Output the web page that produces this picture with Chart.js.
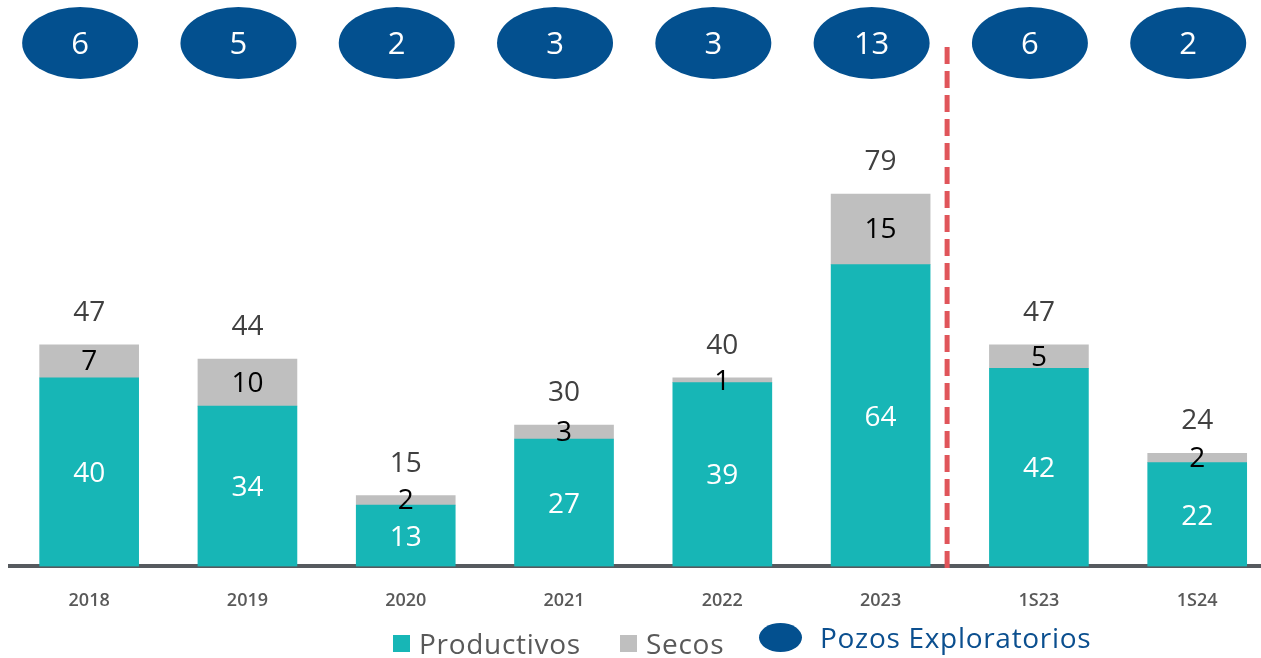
<!DOCTYPE html>
<html>
<head>
<meta charset="utf-8">
<script src="https://cdn.jsdelivr.net/npm/chart.js@4"></script>
<style>
  html, body { margin: 0; padding: 0; background: #fff; }
  #wrap { position: relative; width: 1261px; height: 658px; font-family: "Open Sans", sans-serif; }
  #wrap canvas { position: absolute; left: 0; top: 0; }
  .leg { position: absolute; display: flex; align-items: center; font-size: 28px; letter-spacing: 0.7px; color: #595959; white-space: nowrap; }
  .sq { display: inline-block; width: 17px; height: 17px; margin-right: 9px; }
  .ell { display: inline-block; width: 43px; height: 29px; border-radius: 50%; background: #03508f; margin-right: 18px; }
</style>
</head>
<body>
<div id="wrap">
  <canvas id="c" width="1261" height="658"></canvas>
  <div class="leg" style="left:393px; top:624px;"><span class="sq" style="background:#17b6b6"></span>Productivos</div>
  <div class="leg" style="left:620px; top:624px;"><span class="sq" style="background:#bfbfbf"></span>Secos</div>
  <div class="leg" style="left:759px; top:618px; color:#0b4f8f;"><span class="ell"></span>Pozos Exploratorios</div>
</div>
<script>
// Exploratory wells per period: productive vs dry, total on top, well count in the navy ovals.
const categories  = ["2018", "2019", "2020", "2021", "2022", "2023", "1S23", "1S24"];
const productivos = [40, 34, 13, 27, 39, 64, 42, 22];
const secos       = [7, 10, 2, 3, 1, 15, 5, 2];
const totales     = [47, 44, 15, 30, 40, 79, 47, 24];
const pozosExpl   = [6, 5, 2, 3, 3, 13, 6, 2];
const DIVIDER = 5.42;   // dashed line between annual and half-year figures

const C = {teal: "#17b6b6", gray: "#bfbfbf", navy: "#03508f", red: "#e0555a", axis: "#565a5f", text: "#404040"};
const FONT = '"Open Sans", sans-serif';

const pts = arr => arr.map((v, i) => ({x: i, y: v}));

const labelsPlugin = {
  id: "labels",
  afterDatasetsDraw(chart) {
    const ctx = chart.ctx, xs = chart.scales.x, area = chart.chartArea;
    const mP = chart.getDatasetMeta(0), mS = chart.getDatasetMeta(1);
    ctx.save();
    ctx.textAlign = "center"; ctx.textBaseline = "middle";
    ctx.font = "28px " + FONT;
    mP.data.forEach((b, i) => {
      ctx.fillStyle = "#fff";
      ctx.fillText(productivos[i], b.x, (b.y + b.base) / 2 + 2);
      const s = mS.data[i];
      ctx.fillStyle = "#000";
      ctx.fillText(secos[i], s.x, Math.max((s.y + s.base) / 2 + 1, s.y + 4));
      ctx.fillStyle = C.text;
      ctx.fillText(totales[i], s.x, s.y - 32);
    });
    // well-count ovals
    pozosExpl.forEach((n, i) => {
      const cx = xs.getPixelForValue(i) - 9;
      ctx.fillStyle = C.navy;
      ctx.beginPath(); ctx.ellipse(cx, 43, 58, 36, 0, 0, Math.PI * 2); ctx.fill();
      ctx.fillStyle = "#fff"; ctx.font = "31px " + FONT;
      ctx.fillText(n, cx, 45);
    });
    // divider
    const dx = xs.getPixelForValue(DIVIDER);
    ctx.strokeStyle = C.red; ctx.lineWidth = 5; ctx.setLineDash([17, 7]);
    ctx.beginPath(); ctx.moveTo(dx, 47); ctx.lineTo(dx, area.bottom + 5); ctx.stroke();
    ctx.restore();
  }
};

new Chart(document.getElementById("c"), {
  type: "bar",
  data: {datasets: [
    {label: "Productivos", data: pts(productivos), backgroundColor: C.teal, stack: "a", barThickness: 99},
    {label: "Secos", data: pts(secos), backgroundColor: C.gray, stack: "a", barThickness: 99},
  ]},
  options: {
    responsive: false, animation: false,
    layout: {padding: {top: 95, left: 10, right: 0, bottom: 22}},
    plugins: {legend: {display: false}, tooltip: {enabled: false}},
    scales: {
      x: {type: "linear", min: -0.5, max: 7.403, offset: false, z: 1,
          grid: {display: false, drawTicks: false},
          border: {display: true, color: C.axis, width: 4},
          ticks: {stepSize: 1, includeBounds: false, padding: 24, color: "#595959",
                  font: {family: FONT, size: 18, weight: "600"},
                  callback: v => Number.isInteger(v) ? categories[v] : ""}},
      y: {display: false, stacked: true, min: 0, max: 100}
    }
  },
  plugins: [labelsPlugin]
});
</script>
</body>
</html>
